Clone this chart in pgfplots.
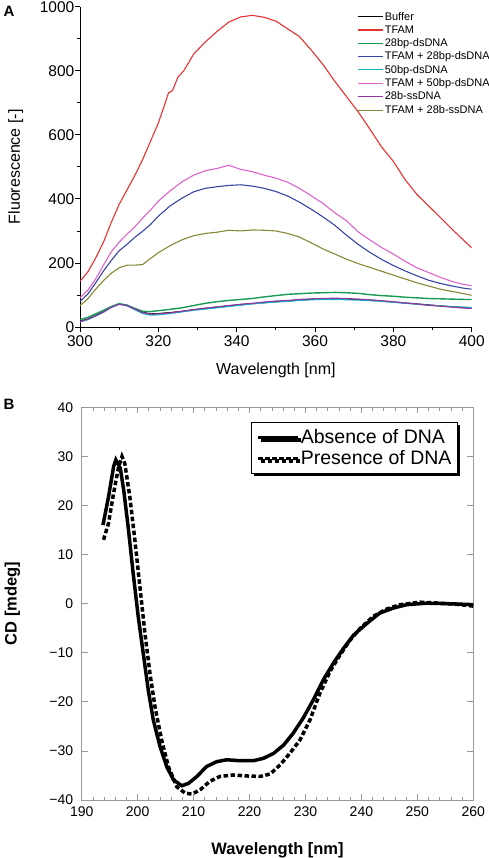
\documentclass[border=0pt]{standalone}
\usepackage{fontspec}
\setmainfont{Liberation Sans}
\usepackage{pgfplots}
\pgfplotsset{compat=1.18}
\usepackage{pgfplotstable}
\usetikzlibrary{shadows}

\definecolor{cBuf}{RGB}{0,0,0}
\definecolor{cTFAM}{RGB}{232,50,50}
\definecolor{cG}{RGB}{25,155,85}
\definecolor{cB}{RGB}{55,70,165}
\definecolor{cC}{RGB}{20,180,205}
\definecolor{cP}{RGB}{222,100,205}
\definecolor{cPu}{RGB}{145,55,160}
\definecolor{cO}{RGB}{135,135,55}

\pgfplotstableread{
x y
300 18
302 25
304 36
306 48
308 62
310 72
312 68
314 57
316 46
318 41
320 42
323 45
326 49
329 54
332 58
335 62
338 66
341 70
344 73
347 76
350 79
353 81
356 84
359 86
362 88
365 88
368 87
371 86
374 84
377 81
380 78
383 75
386 72
389 69
392 66
395 63
398 61
400 59
}\tBuffer

\pgfplotstableread{
x y
300 143
302 172
304 215
306 265
308 327
310 383
312 428
314 473
316 523
318 580
320 637
321.5 690
322.6 731
323.6 738
325 780
326.5 800
329 852
332 890
335 923
338 952
341 968
344 973
347 967
350 955
353 931
356 907
359 865
362 820
365 768
368 720
371 672
374 618
377 562
380 517
383 460
386 414
389 378
392 342
395 305
398 270
400 247
}\tTFAM

\pgfplotstableread{
x y
300 23
302 30
304 41
306 52
308 64
310 73
312 68
314 58
316 49
318 48
320 51
323 55
326 60
329 67
332 74
335 79
338 83
341 86
344 89
347 94
350 98
353 102
356 104
359 106
362 107
365 108
368 107
371 105
374 101
377 98
380 96
383 93
386 91
389 89
392 88
395 87
398 86
400 86
}\tGreen

\pgfplotstableread{
x y
300 80
302 103
304 138
306 175
308 208
310 238
312 258
314 280
316 299
318 320
320 346
323 378
326 402
329 422
332 433
335 438
338 442
341 444
344 440
347 433
350 423
353 409
356 390
359 368
362 344
365 318
368 287
371 258
374 233
377 211
380 192
383 175
386 160
389 146
392 136
395 128
398 121
400 118
}\tBlue

\pgfplotstableread{
x y
300 16
302 23
304 34
306 46
308 61
310 71
312 66
314 54
316 42
318 37
320 38
323 42
326 47
329 52
332 56
335 60
338 64
341 68
344 72
347 75
350 78
353 80
356 83
359 85
362 86
365 86
368 85
371 84
374 82
377 80
380 77
383 74
386 71
389 68
392 66
395 64
398 62
400 61
}\tCyan

\pgfplotstableread{
x y
300 91
302 115
304 150
306 193
308 235
310 265
312 290
314 313
316 340
318 365
320 393
323 425
326 453
329 474
332 488
335 495
338 505
341 492
344 485
347 474
350 465
353 452
356 433
359 410
362 386
365 357
368 332
371 297
374 272
377 248
380 228
383 205
386 185
389 170
392 155
395 142
398 133
400 129
}\tPink

\pgfplotstableread{
x y
300 17
302 24
304 35
306 47
308 62
310 71
312 67
314 56
316 45
318 40
320 41
323 44
326 49
329 54
332 59
335 63
338 67
341 71
344 74
347 78
350 81
353 83
356 86
359 88
362 89
365 90
368 89
371 87
374 85
377 82
380 79
383 75
386 72
389 68
392 65
395 62
398 59
400 58
}\tPurple

\pgfplotstableread{
x y
300 67
302 88
304 118
306 145
308 168
310 185
312 193
314 193
316 195
318 214
320 232
323 254
326 272
329 285
332 292
335 296
338 302
341 300
344 303
347 302
350 300
353 292
356 281
359 263
362 244
365 228
368 212
371 198
374 186
377 174
380 162
383 150
386 138
389 128
392 118
395 111
398 104
400 99
}\tOlive

\pgfplotstableread{
x y
193.8 16.0
194.8 21.8
195.7 27.9
196.1 29.3
196.9 27.6
197.5 23.2
198.3 15.7
199.2 6.2
200.1 -2.6
201.0 -10.1
201.9 -17.6
202.8 -23.7
204.0 -29.1
205.2 -33.2
206.4 -35.9
207.9 -37.1
209.1 -36.6
210.6 -35.2
212.3 -33.2
214.1 -32.2
215.9 -31.8
218.3 -32.0
220.7 -32.0
222.5 -31.5
224.3 -30.5
226.1 -28.8
227.8 -26.4
229.6 -23.3
231.4 -19.6
233.2 -15.5
235.0 -12.1
236.8 -9.1
238.6 -6.4
241.0 -4.0
243.3 -1.9
245.7 -0.9
248.1 -0.2
251.7 0.1
255.3 0.0
260.0 -0.2
}\tAbs

\pgfplotstableread{
x y
193.9 13.0
194.8 16.4
195.7 22.5
196.6 27.9
197.2 30.0
197.7 28.6
198.6 21.8
199.5 13.0
200.4 3.5
201.3 -6.0
202.2 -14.2
203.1 -21.0
204.3 -27.8
205.5 -33.2
207.0 -37.3
208.5 -38.6
209.7 -38.8
211.2 -37.9
212.9 -36.2
214.7 -35.2
217.1 -34.9
219.5 -35.1
221.9 -35.2
223.7 -34.7
225.5 -32.8
227.2 -30.5
229.0 -27.8
230.8 -23.7
232.6 -18.2
234.4 -13.8
236.2 -10.4
238.0 -7.4
239.8 -5.0
242.1 -2.6
244.5 -1.1
246.9 -0.2
250.5 0.3
254.1 0.1
257.7 -0.2
260.0 -0.5
}\tPres

\begin{document}
\begin{tikzpicture}
\path[use as bounding box] (0pt,0pt) rectangle (489pt,-858pt);
\node[font=\fontsize{15}{15}\selectfont\bfseries] at (9pt,-11.5pt) {A};
\node[font=\fontsize{15}{15}\selectfont\bfseries] at (9pt,-404pt) {B};

\begin{axis}[
  at={(80pt,-327pt)}, anchor=south west,
  scale only axis, width=391.7pt, height=320.3pt,
  xmin=300, xmax=400, ymin=0, ymax=1000,
  axis lines=left,
  axis line style={-, black, line width=0.8pt},
  tick style={black, line width=0.8pt},
  tick align=outside,
  major tick length=5pt, minor tick length=3pt,
  xtick={300,320,...,400}, ytick={0,200,...,1000},
  minor x tick num=1, minor y tick num=1,
  scaled ticks=false,
  /pgf/number format/1000 sep={},
  /pgf/number format/assume math mode=true,
  tick label style={font=\fontsize{15.5}{16}\selectfont},
  yticklabel style={inner xsep=0.5pt},
  xlabel={Wavelength [nm]},
  ylabel={Fluorescence [-]},
  every axis x label/.style={at={(axis description cs:0.5,-0.136)}, anchor=center},
  every axis y label/.style={at={(axis description cs:-0.164,0.5)}, anchor=center, rotate=90},
  label style={font=\fontsize{16}{16}\selectfont},
  legend cell align=left,
  legend image code/.code={\draw[#1] (0pt,0pt) -- (25pt,0pt);},
  legend style={at={(0.70,0.993)}, anchor=north west, draw=none, fill=none,
    font=\fontsize{11}{11}\selectfont, row sep=1.9pt,
    nodes={inner xsep=1pt, inner ysep=1pt}},
]
\addplot[cBuf, line width=1.1pt] table {\tBuffer};
\addlegendentry{Buffer}
\addplot[cTFAM, line width=1.1pt] table {\tTFAM};
\addlegendentry{TFAM}
\addplot[cG, line width=1.4pt] table {\tGreen};
\addlegendentry{28bp-dsDNA}
\addplot[cB, line width=1.1pt] table {\tBlue};
\addlegendentry{TFAM + 28bp-dsDNA}
\addplot[cC, line width=1.1pt] table {\tCyan};
\addlegendentry{50bp-dsDNA}
\addplot[cP, line width=1.1pt] table {\tPink};
\addlegendentry{TFAM + 50bp-dsDNA}
\addplot[cPu, line width=1.1pt] table {\tPurple};
\addlegendentry{28b-ssDNA}
\addplot[cO, line width=1.1pt] table {\tOlive};
\addlegendentry{TFAM + 28b-ssDNA}
\end{axis}

\begin{axis}[
  at={(81.7pt,-800pt)}, anchor=south west,
  scale only axis, width=391.6pt, height=392.7pt,
  xmin=190, xmax=260, ymin=-40, ymax=40,
  axis line style={gray!80, line width=0.7pt},
  tick style={gray!80, line width=0.7pt},
  tick align=inside,
  major tick length=6pt, minor tick length=3.5pt,
  xtick={190,200,...,260}, minor x tick num=4,
  ytick={-40,-30,...,40},
  yticklabels={−40,−30,−20,−10,0,10,20,30,40},
  /pgf/number format/assume math mode=true,
  tick label style={font=\fontsize{14}{14}\selectfont},
  yticklabel style={xshift=-5pt},
  xticklabel style={yshift=-3pt},
  xlabel={Wavelength [nm]},
  ylabel={CD [mdeg]},
  every axis x label/.style={at={(axis description cs:0.5,-0.127)}, anchor=center},
  every axis y label/.style={at={(axis description cs:-0.177,0.5)}, anchor=center, rotate=90},
  label style={font=\fontsize{16.5}{16.5}\selectfont\bfseries},
  legend cell align=left,
  legend image code/.code={\draw[#1] (0pt,0pt) -- (40pt,0pt);},
  legend style={at={(0.961,0.963)}, anchor=north east, draw=black, line width=1pt,
    fill=white,
    general shadow={fill=black, shadow xshift=2.5pt, shadow yshift=-2.5pt},
    font=\fontsize{19.5}{19.5}\selectfont, row sep=0pt,
    inner xsep=5pt, inner ysep=5pt,
    nodes={inner xsep=1pt, inner ysep=2.5pt}},
]
\addplot[black, line width=3.5pt] table {\tAbs};
\addlegendentry{Absence of DNA}
\addplot[black, line width=3.5pt, dash pattern=on 4.5pt off 2.5pt] table {\tPres};
\addlegendentry{Presence of DNA}
\end{axis}
\end{tikzpicture}
\end{document}
